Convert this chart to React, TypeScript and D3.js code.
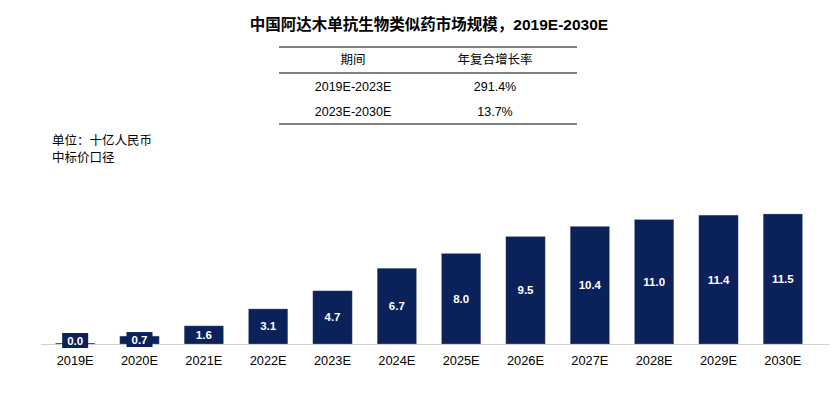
import * as d3 from "d3";

const years = ["2019E", "2020E", "2021E", "2022E", "2023E", "2024E", "2025E", "2026E", "2027E", "2028E", "2029E", "2030E"];
const marketSize = [0.0, 0.7, 1.6, 3.1, 4.7, 6.7, 8.0, 9.5, 10.4, 11.0, 11.4, 11.5];

const tableHeader = ["期间", "年复合增长率"];
const tablePeriods = ["2019E-2023E", "2023E-2030E"];
const tableCagr = ["291.4%", "13.7%"];

const title = "中国阿达木单抗生物类似药市场规模，2019E-2030E";
const unitLines = ["单位：十亿人民币", "中标价口径"];

const FONT = "'Liberation Sans', Arial, 'Noto Sans CJK SC', sans-serif";
const NAVY = "#0b2159";

export default function App() {
  const width = 836;
  const height = 396;
  const baseline = 344;

  const x = d3.scaleBand<string>().domain(years).range([43, 815]).paddingInner(0.39).paddingOuter(0.195);
  const y = d3.scaleLinear().domain([0, d3.max(marketSize) || 0]).range([baseline, 214]);

  // table layout
  const tLeft = 279;
  const tRight = 577;
  const col1 = 353;
  const col2 = 495;

  return (
    <svg
      width={width}
      height={height}
      style={{ position: "absolute", left: 0, top: 0, background: "#fff" }}
      fontFamily={FONT}
    >
      <text x={429} y={30} textAnchor="middle" fontSize={15.5} fontWeight="bold" fill="#000">
        {title}
      </text>

      {/* CAGR table */}
      <g fontSize={12.5} fill="#000">
        <line x1={tLeft} x2={tRight} y1={47} y2={47} stroke="#000" strokeWidth={1} />
        <line x1={tLeft} x2={tRight} y1={73} y2={73} stroke="#000" strokeWidth={1} />
        <line x1={tLeft} x2={tRight} y1={124} y2={124} stroke="#000" strokeWidth={1} />
        <text x={col1} y={64} textAnchor="middle">{tableHeader[0]}</text>
        <text x={col2} y={64} textAnchor="middle">{tableHeader[1]}</text>
        {tablePeriods.map((p, i) => (
          <g key={p}>
            <text x={col1} y={91 + i * 25} textAnchor="middle">{p}</text>
            <text x={col2} y={91 + i * 25} textAnchor="middle">{tableCagr[i]}</text>
          </g>
        ))}
      </g>

      {/* unit note */}
      <g fontSize={12.5} fill="#000">
        {unitLines.map((t, i) => (
          <text key={t} x={52} y={145 + i * 17}>{t}</text>
        ))}
      </g>

      {/* bars */}
      {years.map((yr, i) => {
        const v = marketSize[i];
        const bx = x(yr) || 0;
        const bw = x.bandwidth();
        const top = y(v);
        const h = baseline - top;
        if (h < 1) {
          return <line key={yr} x1={bx} x2={bx + bw} y1={baseline} y2={baseline} stroke={NAVY} strokeWidth={1.5} />;
        }
        return (
          <rect key={yr} x={bx} y={top} width={bw} height={h} fill={NAVY} stroke="#8a96b0" strokeWidth={0.4} />
        );
      })}

      {/* axis */}
      <line x1={41} x2={829} y1={baseline + 0.5} y2={baseline + 0.5} stroke="#d0d0d0" strokeWidth={1} />

      {years.map((yr) => (
        <text key={yr} x={(x(yr) || 0) + x.bandwidth() / 2} y={365} textAnchor="middle" fontSize={12.8} fill="#000">
          {yr}
        </text>
      ))}

      {/* value labels */}
      {years.map((yr, i) => {
        const v = marketSize[i];
        const cx = (x(yr) || 0) + x.bandwidth() / 2;
        const top = y(v);
        const cy = (top + baseline) / 2;
        const small = baseline - top < 16;
        const ly = small ? Math.min(cy, baseline - 3) : cy;
        return (
          <g key={yr}>
            {small && <rect x={cx - 13} y={ly - 8} width={26} height={15} fill={NAVY} />}
            <text x={cx} y={ly + 4} textAnchor="middle" fontSize={11.5} fontWeight="bold" fill="#fff">
              {v.toFixed(1)}
            </text>
          </g>
        );
      })}
    </svg>
  );
}
